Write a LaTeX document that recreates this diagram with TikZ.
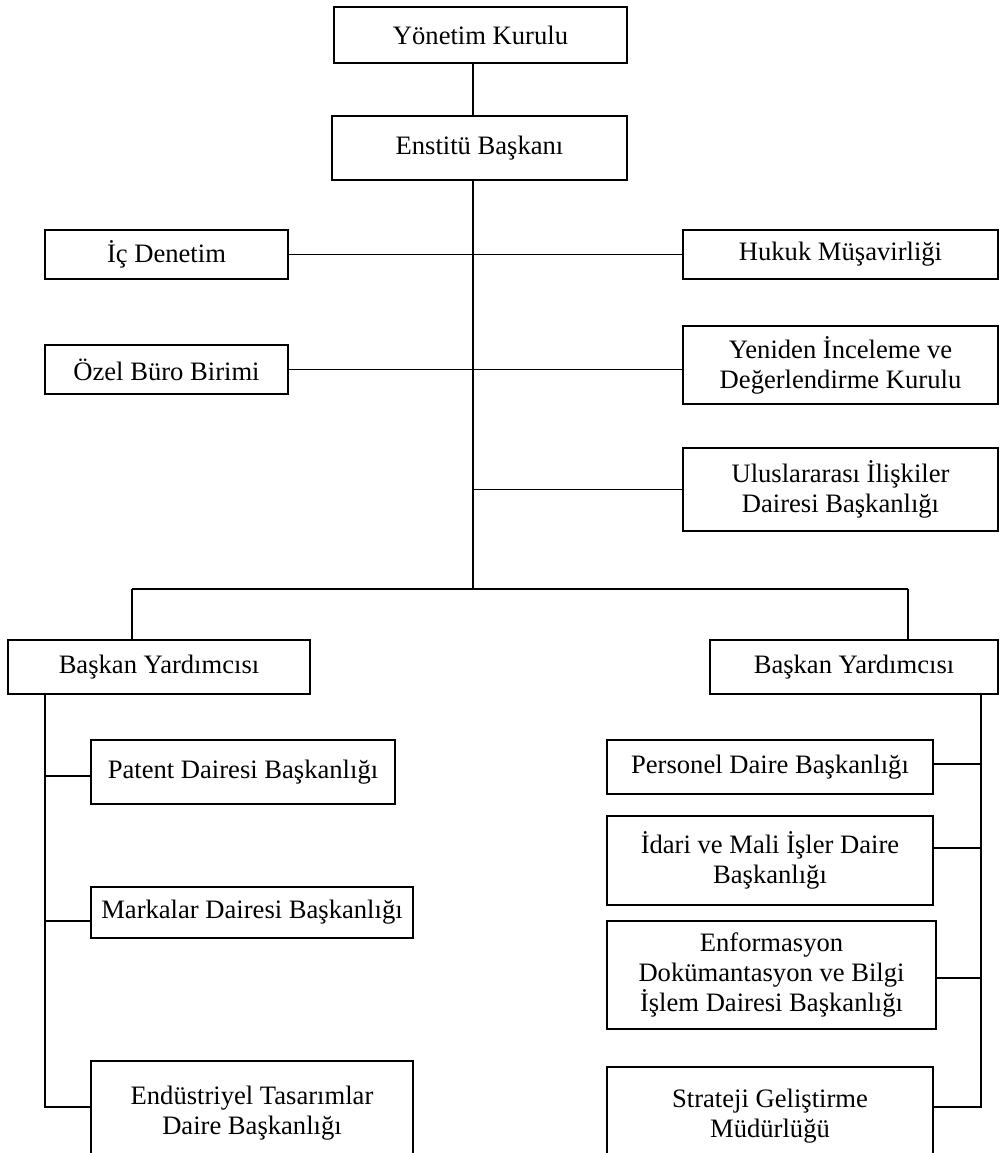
\documentclass[tikz,border=0pt]{standalone}
\usepackage{fontspec}
\setmainfont{Liberation Serif}
\begin{document}
\begin{tikzpicture}[x=1pt,y=-1pt,
  box/.style={draw=black,line width=1.8pt,rectangle,inner sep=0pt,align=center,
    font=\fontsize{26.6}{30}\selectfont},
  conn/.style={draw=black,line width=1.8pt}]
\useasboundingbox (0,0) rectangle (999,1153);
% top
\node[box,minimum width=293pt,minimum height=56pt] (yk) at (480.5,35) {Yönetim Kurulu};
\node[box,minimum width=295pt,minimum height=64pt] (eb) at (479.5,148) {Enstitü Başkanı};
% staff units
\node[box,minimum width=243pt,minimum height=49pt] (ic) at (166.5,254.5) {İç Denetim};
\node[box,minimum width=315pt,minimum height=49pt] (huk) at (840.5,254.5) {Hukuk Müşavirliği};
\node[box,minimum width=243pt,minimum height=49pt] (ozel) at (166.5,369.5) {Özel Büro Birimi};
\node[box,minimum width=315pt,minimum height=78pt] (yen) at (840.5,365) {Yeniden İnceleme ve\\Değerlendirme Kurulu};
\node[box,minimum width=315pt,minimum height=83pt] (uil) at (840.5,489.5) {Uluslararası İlişkiler\\Dairesi Başkanlığı};
% vice presidents
\node[box,minimum width=302pt,minimum height=54pt] (by1) at (159,667) {Başkan Yardımcısı};
\node[box,minimum width=288pt,minimum height=54pt] (by2) at (854,667) {Başkan Yardımcısı};
% left departments
\node[box,minimum width=304pt,minimum height=64pt] (pat) at (243,772) {Patent Dairesi Başkanlığı};
\node[box,minimum width=322pt,minimum height=51pt] (mark) at (252,912.5) {Markalar Dairesi Başkanlığı};
\node[box,minimum width=322pt,minimum height=104pt] (endu) at (252,1113) {Endüstriyel Tasarımlar\\Daire Başkanlığı};
% right departments
\node[box,minimum width=326pt,minimum height=54pt] (per) at (770,767) {Personel Daire Başkanlığı};
\node[box,minimum width=326pt,minimum height=89pt] (ida) at (770,860.5) {İdari ve Mali İşler Daire\\Başkanlığı};
\node[box,minimum width=329pt,minimum height=108pt] (enf) at (771.5,975) {Enformasyon\\Dokümantasyon ve Bilgi\\İşlem Dairesi Başkanlığı};
\node[box,minimum width=326pt,minimum height=98pt] (str) at (770,1116) {Strateji Geliştirme\\Müdürlüğü};
% junction coordinates
\coordinate (j) at (473,589);
\coordinate (bl) at (132,589);
\coordinate (br) at (908,589);
\coordinate (ls) at (45,1107);
\coordinate (l1) at (45,776);
\coordinate (l2) at (45,921);
\coordinate (rs) at (981,1107);
\coordinate (r1) at (981,764);
\coordinate (r2) at (981,848);
\coordinate (r3) at (981,978);
% connectors
\draw[conn] (yk.south -| j) -- (eb.north -| j);
\draw[conn] (eb.south -| j) -- (j);
\draw[conn] (ic.east) -- (huk.west);
\draw[conn] (ozel.east) -- (ozel.east -| yen.west);
\draw[conn] (uil.west) -- (uil.west -| j);
\draw[conn] (bl) -- (br);
\draw[conn] (bl) -- (bl |- by1.north);
\draw[conn] (br) -- (br |- by2.north);
\draw[conn] (ls |- by1.south) -- (ls) -- (ls -| endu.west);
\draw[conn] (l1) -- (l1 -| pat.west);
\draw[conn] (l2) -- (l2 -| mark.west);
\draw[conn] (rs |- by2.south) -- (rs) -- (rs -| str.east);
\draw[conn] (r1) -- (r1 -| per.east);
\draw[conn] (r2) -- (r2 -| ida.east);
\draw[conn] (r3) -- (r3 -| enf.east);
\end{tikzpicture}
\end{document}
